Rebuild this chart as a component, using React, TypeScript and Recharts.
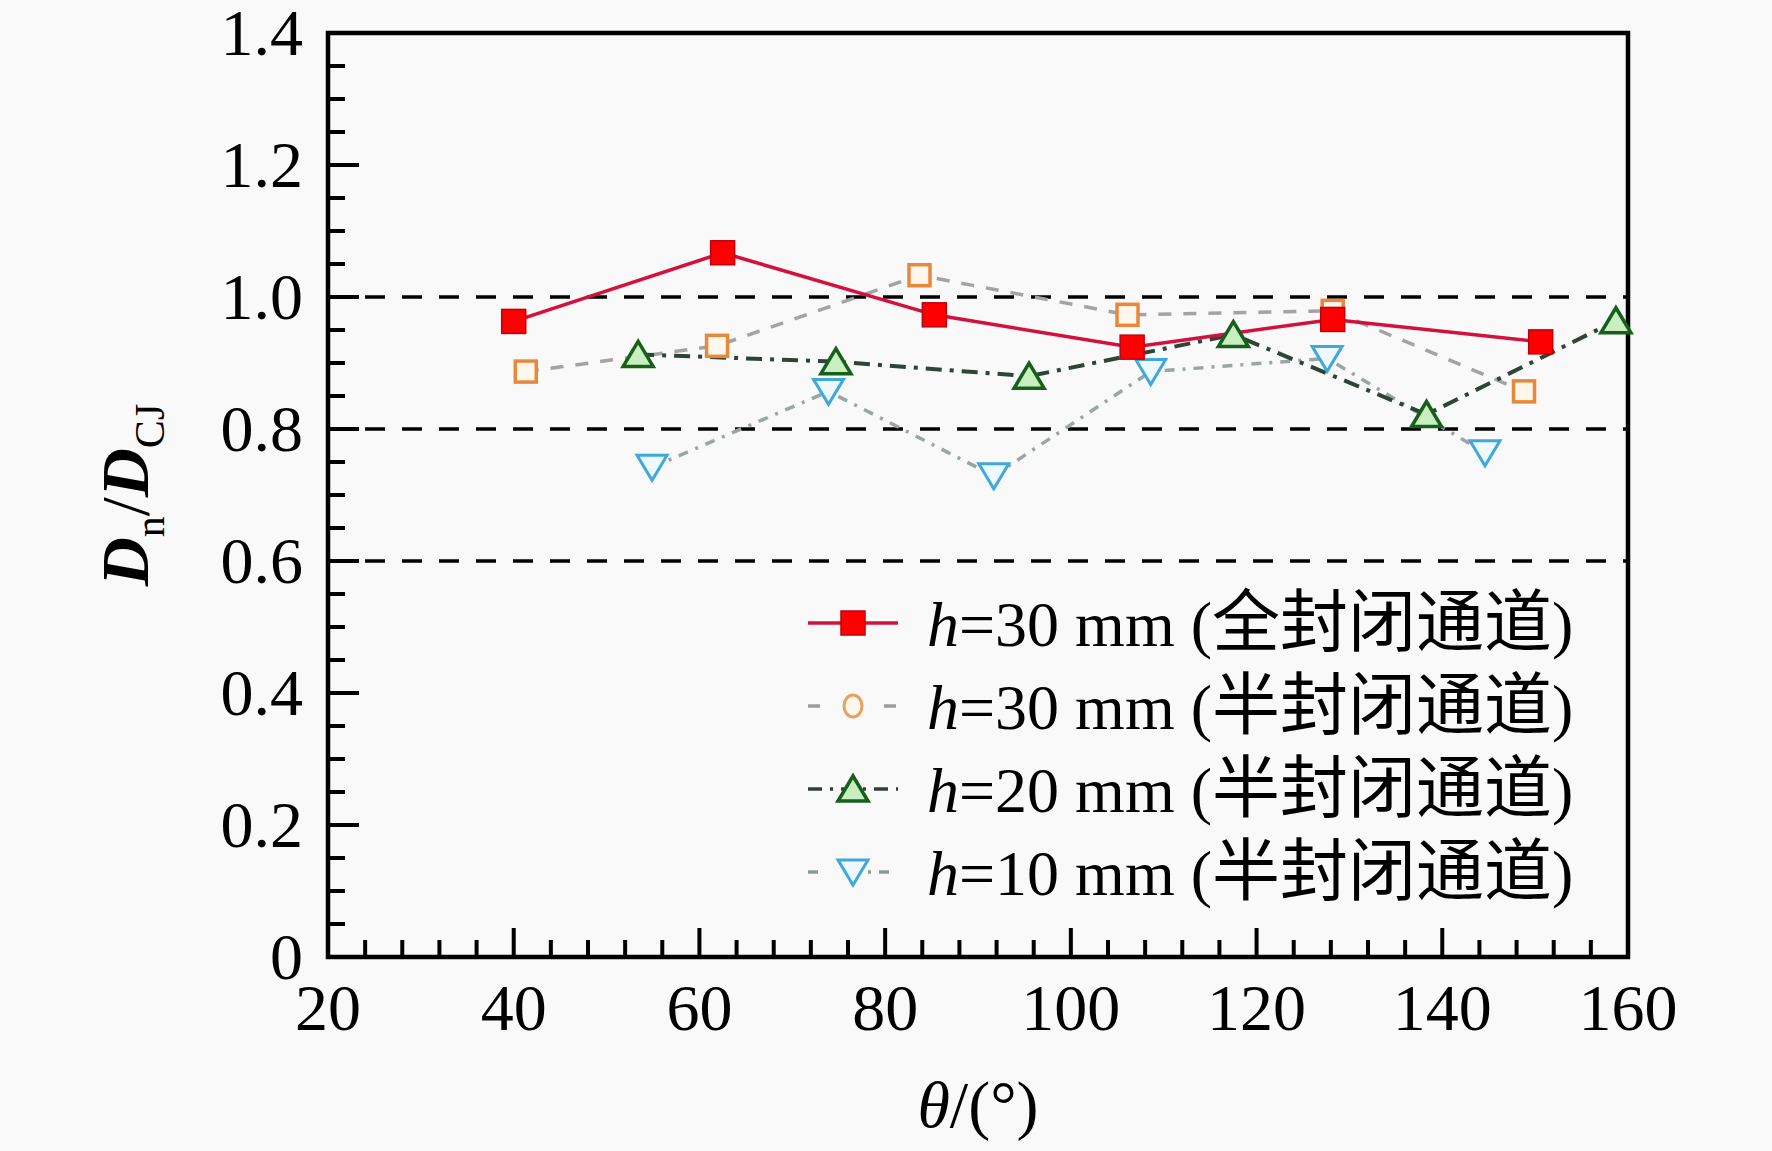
import React from 'react';
import { LineChart, Line, XAxis, YAxis, ReferenceLine, ReferenceArea, Legend } from 'recharts';

// θ (°) and Dn/DCJ
const thetaFull30 = [40.0, 62.5, 85.3, 106.6, 128.2, 150.6];
const ratioFull30 = [0.963, 1.067, 0.973, 0.924, 0.966, 0.932];
const thetaSemi30 = [41.3, 61.9, 83.7, 106.1, 128.2, 148.8];
const ratioSemi30 = [0.887, 0.926, 1.033, 0.973, 0.979, 0.857];
const thetaSemi20 = [53.4, 74.7, 95.5, 117.5, 138.3, 158.7];
const ratioSemi20 = [0.913, 0.902, 0.88, 0.943, 0.822, 0.964];
const thetaSemi10 = [54.9, 73.9, 91.7, 108.6, 127.6, 144.6];
const ratioSemi10 = [0.742, 0.857, 0.729, 0.887, 0.907, 0.764];

const xMajorTicks = [20, 40, 60, 80, 100, 120, 140, 160];
const yMajorTicks = [0, 0.2, 0.4, 0.6, 0.8, 1.0, 1.2, 1.4];
const yTickLabels = ['0', '0.2', '0.4', '0.6', '0.8', '1.0', '1.2', '1.4'];
const dashedLevels = [0.6, 0.8, 1.0];

const legendHeights = ['30', '30', '20', '10'];
const legendChannels = ['全封闭通道', '半封闭通道', '半封闭通道', '半封闭通道'];

const SERIF = '"Liberation Serif", "Noto Sans CJK SC", serif';

// minor ticks: every 4° on x, every 0.05 on y
const xTicks: number[] = [];
for (let v = 20; v <= 160; v += 4) xTicks.push(v);
const yTicks: number[] = [];
for (let i = 0; i <= 28; i++) yTicks.push(Math.round(i * 5) / 100);

const zip = (xs: number[], ys: number[]) => xs.map((x, i) => ({ x, y: ys[i] }));

const full30 = zip(thetaFull30, ratioFull30);
const semi30 = zip(thetaSemi30, ratioSemi30);
const semi20 = zip(thetaSemi20, ratioSemi20);
const semi10 = zip(thetaSemi10, ratioSemi10);

const RedSquare = ({ cx, cy }: any) => (
  <rect x={cx - 12} y={cy - 12} width={24} height={24} fill="#ff0000" stroke="#c00010" strokeWidth={1.5} />
);
const OrangeSquare = ({ cx, cy }: any) => (
  <rect x={cx - 10.5} y={cy - 10.5} width={21} height={21} fill="#fff6ec" stroke="#e8893a" strokeWidth={3.5} />
);
const OrangeCircle = ({ cx, cy }: any) => (
  <ellipse cx={cx} cy={cy} rx={9} ry={11} fill="#fff6ec" stroke="#e8a060" strokeWidth={3} />
);
const GreenTriangle = ({ cx, cy }: any) => (
  <polygon
    points={`${cx},${cy - 13} ${cx - 15},${cy + 12} ${cx + 15},${cy + 12}`}
    fill="#c9efc0"
    stroke="#17601c"
    strokeWidth={3.5}
  />
);
const BlueTriangle = ({ cx, cy }: any) => (
  <polygon
    points={`${cx - 15},${cy - 12} ${cx + 15},${cy - 12} ${cx},${cy + 13}`}
    fill="#eef9ff"
    stroke="#3fa9dc"
    strokeWidth={3}
  />
);

const dotOf = (Shape: any) => (props: any) => <Shape key={`d-${props.index}`} cx={props.cx} cy={props.cy} />;

const XTick = (props: any) => {
  const { x, y, payload } = props;
  const major = xMajorTicks.includes(payload.value);
  return (
    <g>
      <line x1={x} y1={y} x2={x} y2={y - (major ? 29 : 17)} stroke="#000" strokeWidth={4} />
      {major && (
        <text x={x} y={y + 73} textAnchor="middle" fontSize={66} fontFamily={SERIF} fill="#000">
          {payload.value}
        </text>
      )}
    </g>
  );
};

const YTick = (props: any) => {
  const { x, y, payload } = props;
  const idx = yMajorTicks.findIndex((t) => Math.abs(t - payload.value) < 1e-6);
  return (
    <g>
      <line x1={x} y1={y} x2={x + (idx >= 0 ? 31 : 17)} y2={y} stroke="#000" strokeWidth={4} />
      {idx >= 0 && (
        <text x={x - 25} y={y + 22} textAnchor="end" fontSize={66} fontFamily={SERIF} fill="#000">
          {yTickLabels[idx]}
        </text>
      )}
    </g>
  );
};

const legendIcons = [
  { stroke: '#d4103c', dash: undefined, Marker: RedSquare },
  { stroke: '#9c9c9c', dash: '12 26', Marker: OrangeCircle },
  { stroke: '#333f38', dash: '14 8 3 8', Marker: GreenTriangle },
  { stroke: '#8f9a9a', dash: '10 50 3 8', Marker: BlueTriangle },
];

const renderLegend = () => (
  <div style={{ fontFamily: SERIF, fontSize: 64, color: '#000', lineHeight: 1 }}>
    {legendIcons.map((it, i) => {
      const M = it.Marker;
      return (
        <div key={i} style={{ display: 'flex', alignItems: 'center', height: 83, whiteSpace: 'nowrap' }}>
          <svg width={92} height={40} style={{ overflow: 'visible' }}>
            <line x1={0} y1={20} x2={90} y2={20} stroke={it.stroke} strokeWidth={3.5} strokeDasharray={it.dash} />
            <M cx={45} cy={20} />
          </svg>
          <span style={{ marginLeft: 27 }}>
            <i>h</i>={legendHeights[i]} mm (<span style={{ fontSize: 68 }}>{legendChannels[i]}</span>)
          </span>
        </div>
      );
    })}
  </div>
);

const XTitle = (props: any) => {
  const vb = props.viewBox || { x: 328, y: 957, width: 1300, height: 0 };
  return (
    <text x={vb.x + vb.width / 2} y={957 + 170} textAnchor="middle" fontSize={66} fontFamily={SERIF} fill="#000">
      <tspan fontStyle="italic">θ</tspan>
      <tspan>/(°)</tspan>
    </text>
  );
};

const YTitle = () => {
  const cx = 148;
  const cy = 495;
  return (
    <text x={cx} y={cy} transform={`rotate(-90, ${cx}, ${cy})`} textAnchor="middle" fontSize={68} fontFamily={SERIF} fill="#000">
      <tspan fontStyle="italic" fontWeight="bold">D</tspan>
      <tspan fontSize={42} dy={16}>n</tspan>
      <tspan dy={-16}>/</tspan>
      <tspan fontStyle="italic" fontWeight="bold">D</tspan>
      <tspan fontSize={42} dy={16}>CJ</tspan>
    </text>
  );
};

export default function App() {
  return (
    <div style={{ position: 'absolute', left: 0, top: 0, width: 1772, height: 1151, background: '#f9f9f9' }}>
      <LineChart width={1772} height={1151} margin={{ top: 33, right: 144, bottom: 134, left: 268 }}>
        <XAxis
          type="number"
          dataKey="x"
          domain={[20, 160]}
          ticks={xTicks}
          interval={0}
          tickSize={0}
          tickMargin={0}
          height={60}
          axisLine={false}
          tickLine={false}
          tick={XTick}
          label={{ content: XTitle }}
        />
        <YAxis
          type="number"
          domain={[0, 1.4]}
          ticks={yTicks}
          interval={0}
          tickSize={0}
          tickMargin={0}
          width={60}
          axisLine={false}
          tickLine={false}
          tick={YTick}
          label={{ content: YTitle }}
        />
        {dashedLevels.map((v) => (
          <ReferenceLine key={v} y={v} stroke="#000" strokeWidth={3.5} strokeDasharray="20 17" />
        ))}
        <ReferenceArea x1={20} x2={160} y1={0} y2={1.4} fill="none" stroke="#000" strokeWidth={4.5} />
        <Line
          data={semi10}
          dataKey="y"
          type="linear"
          stroke="#9aa5a5"
          strokeWidth={3.5}
          strokeDasharray="10 8 3 8"
          dot={dotOf(BlueTriangle)}
          activeDot={false}
          isAnimationActive={false}
        />
        <Line
          data={semi30}
          dataKey="y"
          type="linear"
          stroke="#a3a3a3"
          strokeWidth={3.5}
          strokeDasharray="13 12"
          dot={dotOf(OrangeSquare)}
          activeDot={false}
          isAnimationActive={false}
        />
        <Line
          data={semi20}
          dataKey="y"
          type="linear"
          stroke="#2c4536"
          strokeWidth={4}
          strokeDasharray="16 8 4 8"
          dot={dotOf(GreenTriangle)}
          activeDot={false}
          isAnimationActive={false}
        />
        <Line
          data={full30}
          dataKey="y"
          type="linear"
          stroke="#d4103c"
          strokeWidth={3.5}
          dot={dotOf(RedSquare)}
          activeDot={false}
          isAnimationActive={false}
        />
        <Legend
          layout="horizontal"
          verticalAlign="middle"
          align="center"
          content={renderLegend}
          wrapperStyle={{ position: 'absolute', left: 808, top: 581, width: 'auto' }}
        />
      </LineChart>
    </div>
  );
}
